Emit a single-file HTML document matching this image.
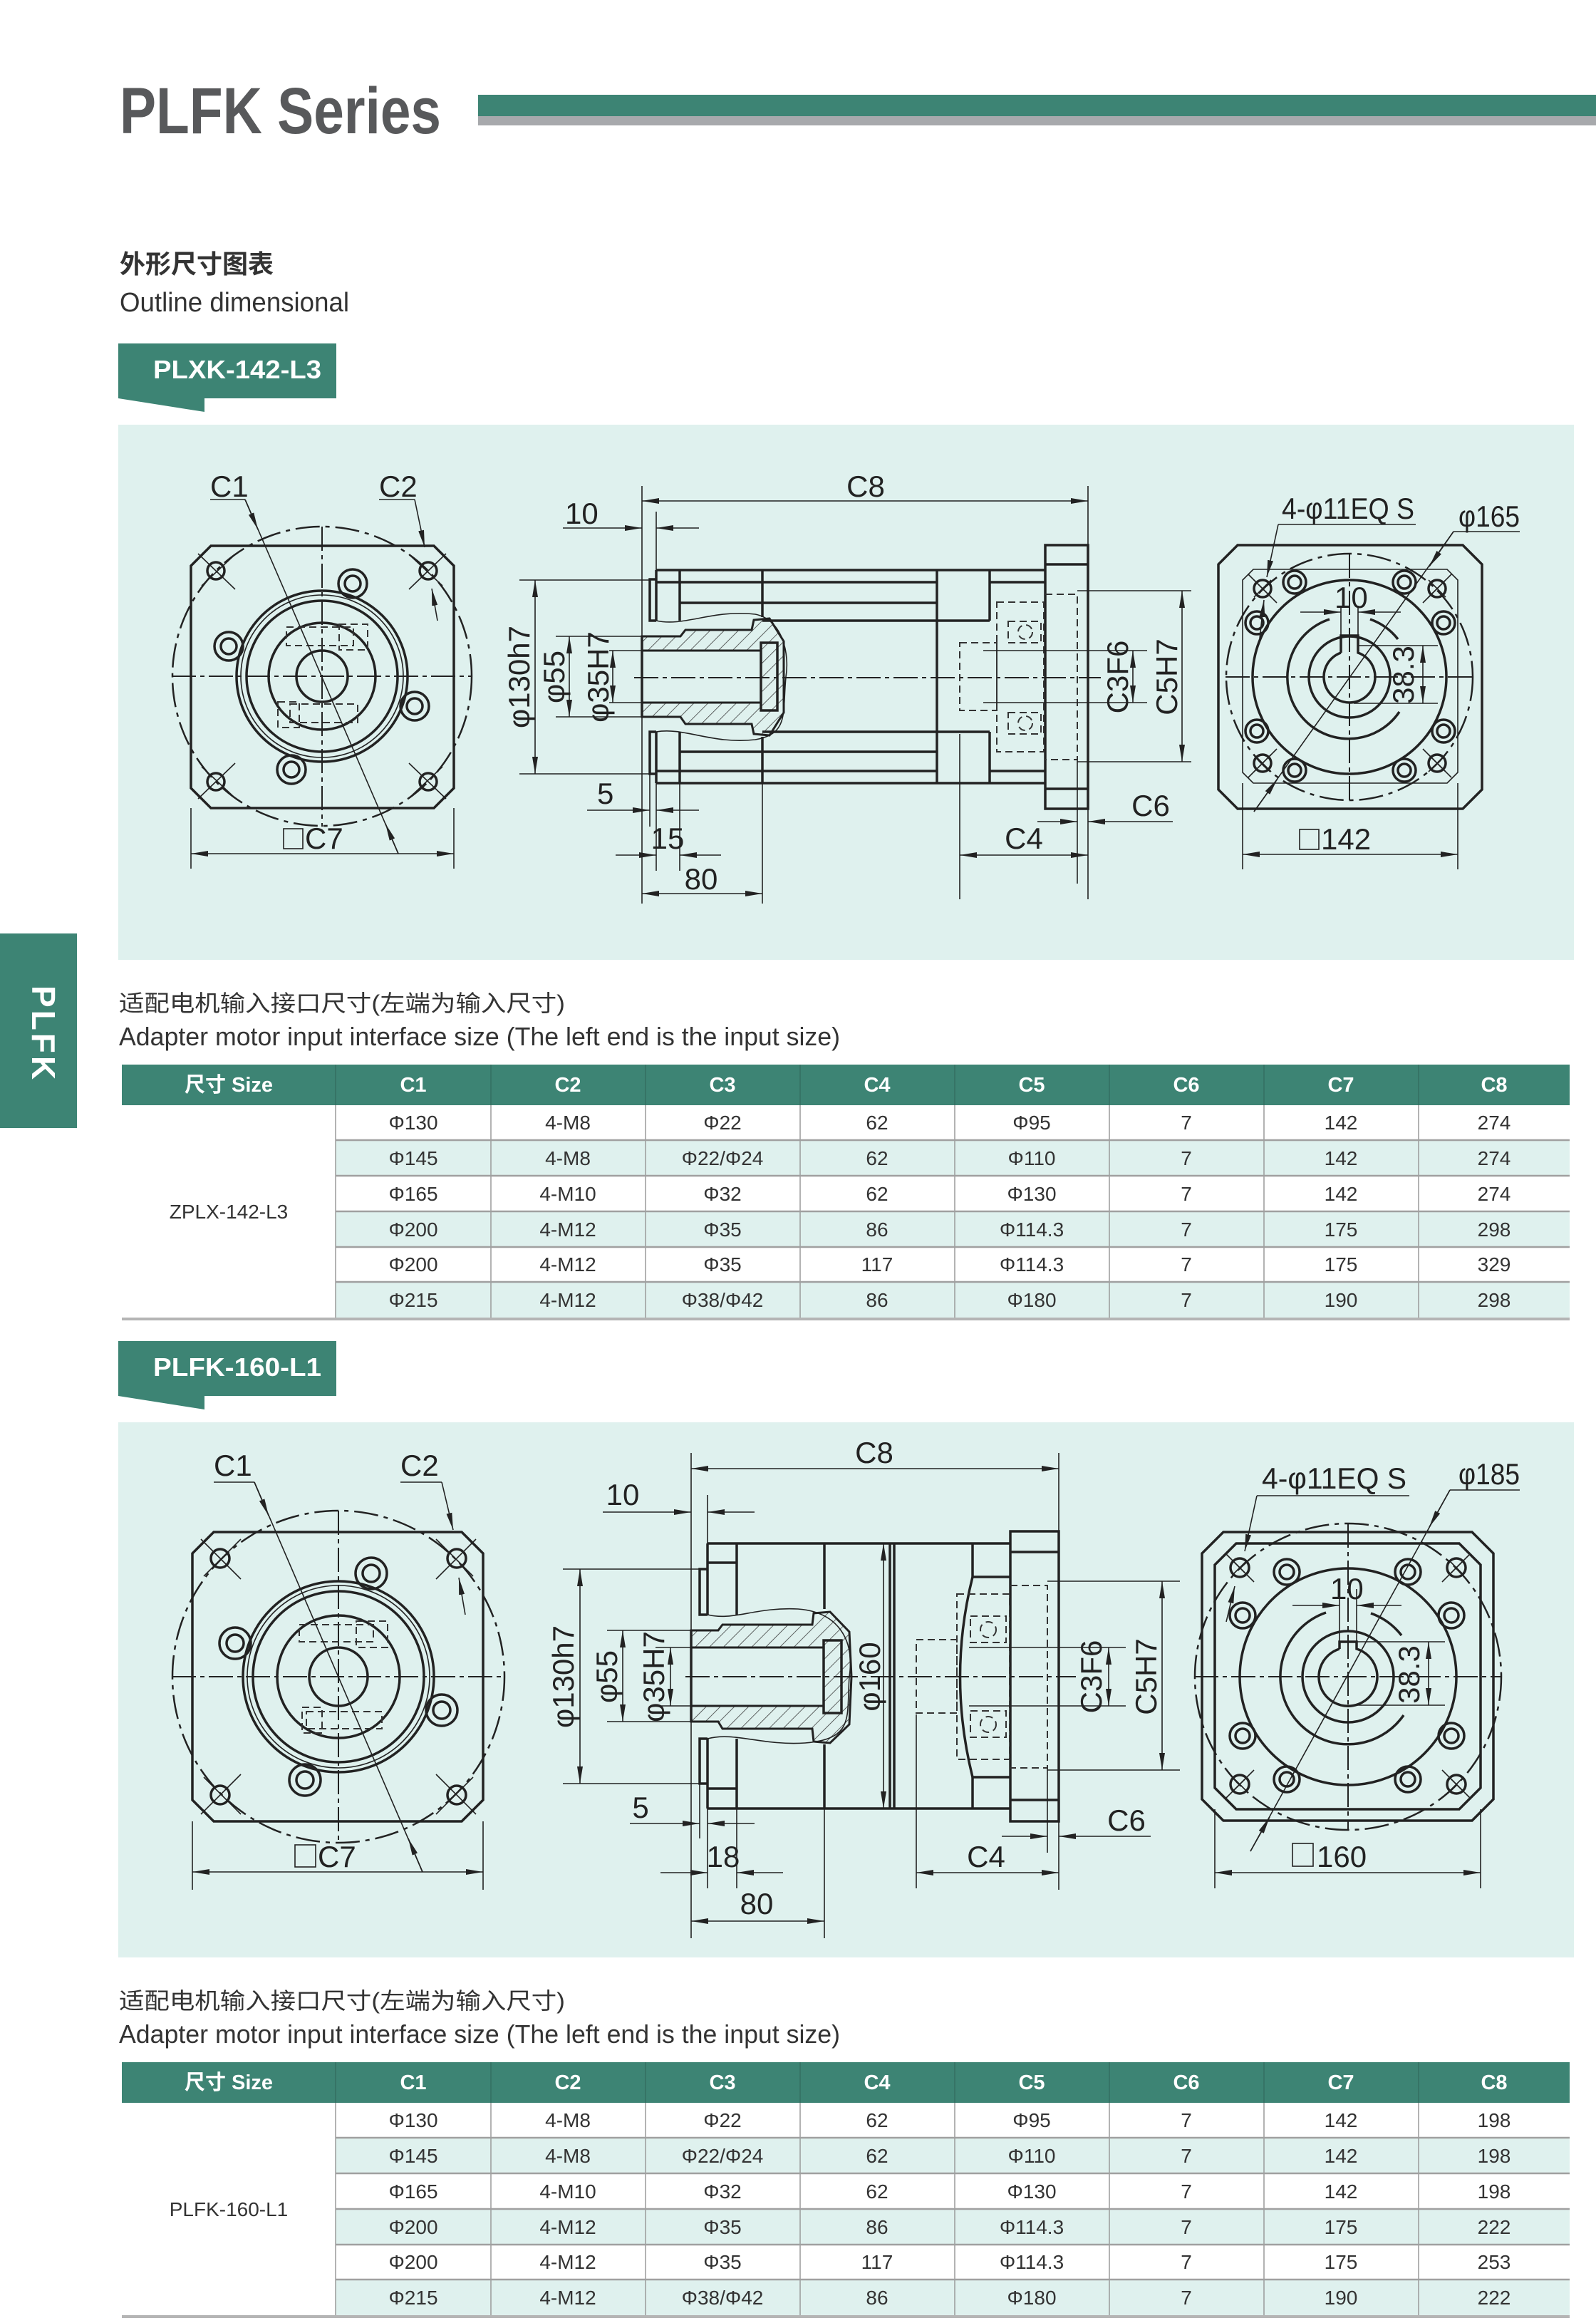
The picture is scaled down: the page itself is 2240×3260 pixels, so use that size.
<!DOCTYPE html>
<html><head><meta charset="utf-8"><style>
html,body{margin:0;padding:0;background:#fff}
svg{display:block}
.t{stroke:#222;fill:none;stroke-width:3.5}
.n{stroke:#222;fill:none;stroke-width:1.6}
.c{stroke:#222;fill:none;stroke-width:2;stroke-dasharray:34 6 6 6}
.dd{stroke:#333;fill:none;stroke-width:2;stroke-dasharray:10 6}
.pc{stroke:#222;fill:none;stroke-width:2.5;stroke-dasharray:34 8 6 8}
.d{font-family:"Liberation Sans",sans-serif;font-size:42px;fill:#222}
.tb{font-family:"Liberation Sans","Noto Sans CJK SC",sans-serif;font-size:28px;fill:#333;text-anchor:middle}
.th{font-family:"Liberation Sans","Noto Sans CJK SC",sans-serif;font-size:29px;font-weight:bold;fill:#fff;text-anchor:middle}
</style></head><body>
<svg width="2240" height="3260" viewBox="0 0 2240 3260" xmlns="http://www.w3.org/2000/svg">
<defs>
<marker id="ar" viewBox="0 0 24 8" refX="24" refY="4" markerWidth="24" markerHeight="8" markerUnits="userSpaceOnUse" orient="auto-start-reverse"><path d="M0,0 L24,4 L0,8z" fill="#222"/></marker>
<pattern id="h" width="14" height="14" patternUnits="userSpaceOnUse" patternTransform="rotate(45)"><line x1="0" y1="0" x2="0" y2="14" stroke="#333" stroke-width="1.5"/></pattern>
</defs>

<!-- Header -->
<text x="168" y="187" font-family="Liberation Sans,sans-serif" font-weight="bold" font-size="92" fill="#58595b" textLength="451" lengthAdjust="spacingAndGlyphs">PLFK Series</text>
<rect x="671" y="133" width="1569" height="30" fill="#3d8474"/>
<rect x="671" y="163" width="1569" height="13" fill="#a7a9ac"/>
<text x="168" y="383" font-family="Liberation Sans,Noto Sans CJK SC,sans-serif" font-size="36" font-weight="bold" fill="#333">外形尺寸图表</text>
<text x="168" y="437" font-family="Liberation Sans,sans-serif" font-size="38" fill="#333" textLength="322" lengthAdjust="spacingAndGlyphs">Outline dimensional</text>

<!-- side tab -->
<rect x="0" y="1310" width="108" height="273" fill="#3d8474"/>
<text transform="translate(45,1451) rotate(90)" text-anchor="middle" font-family="Liberation Sans,sans-serif" font-weight="bold" font-size="46" fill="#fff" letter-spacing="4">PLFK</text>

<!-- ===== SECTION 1 ===== -->
<rect x="166" y="482" width="306" height="77" fill="#3d8474"/>
<polygon points="166,559 287,559 287,578" fill="#3d8474"/>
<text x="215" y="531" font-family="Liberation Sans,sans-serif" font-weight="bold" font-size="36" fill="#fff" textLength="236" lengthAdjust="spacingAndGlyphs">PLXK-142-L3</text>
<rect x="166" y="596" width="2043" height="751" fill="#dff1ee"/>

<!-- left view 1 -->
<g>
<polygon class="t" points="296,766 609,766 637,794 637,1106 609,1134 296,1134 268,1106 268,794"/>
<circle class="pc" cx="452" cy="949" r="210"/>
<line class="c" x1="241" y1="949" x2="662" y2="949"/>
<line class="c" x1="452" y1="739" x2="452" y2="1160"/>
<circle class="t" cx="452" cy="949" r="120" stroke-width="4"/>
<circle class="n" cx="452" cy="949" r="114" stroke-width="2.5"/>
<circle class="t" cx="452" cy="949" r="106"/>
<circle class="t" cx="452" cy="949" r="75"/>
<circle class="t" cx="452" cy="949" r="36"/>
<rect class="dd" x="402" y="880" width="94" height="26"/>
<rect class="dd" x="476" y="876" width="40" height="36"/>
<rect class="dd" x="407" y="988" width="95" height="26"/>
<rect class="dd" x="390" y="985" width="30" height="36"/>
<g class="t" stroke-width="4">
<circle cx="495" cy="819" r="20"/><circle cx="321" cy="907" r="20"/><circle cx="582" cy="991" r="20"/><circle cx="409" cy="1080" r="20"/></g>
<g class="t" stroke-width="3">
<circle cx="495" cy="819" r="11"/><circle cx="321" cy="907" r="11"/><circle cx="582" cy="991" r="11"/><circle cx="409" cy="1080" r="11"/></g>
<g class="t" stroke-width="2.5">
<circle cx="303" cy="801" r="12"/><circle cx="601" cy="801" r="12"/><circle cx="303" cy="1097" r="12"/><circle cx="601" cy="1097" r="12"/></g>
<g class="n">
<line x1="278" y1="777" x2="330" y2="827"/><line x1="283" y1="822" x2="330" y2="778"/>
<line x1="626" y1="777" x2="574" y2="827"/><line x1="621" y1="822" x2="574" y2="778"/>
<line x1="278" y1="1121" x2="330" y2="1071"/><line x1="283" y1="1076" x2="330" y2="1120"/>
<line x1="626" y1="1121" x2="574" y2="1071"/><line x1="621" y1="1076" x2="574" y2="1120"/>
<line x1="295" y1="701" x2="344" y2="701"/><line x1="344" y1="701" x2="559" y2="1198"/>
<line x1="344" y1="701" x2="362" y2="743" marker-end="url(#ar)"/>
<line x1="559" y1="1198" x2="541" y2="1156" marker-end="url(#ar)"/>
<line x1="532" y1="701" x2="582" y2="701"/><line x1="582" y1="701" x2="596" y2="768" marker-end="url(#ar)"/>
<line x1="614" y1="871" x2="606" y2="826" marker-end="url(#ar)"/>
<line x1="268" y1="1134" x2="268" y2="1219"/><line x1="637" y1="1134" x2="637" y2="1219"/>
<line x1="268" y1="1198" x2="637" y2="1198" marker-start="url(#ar)" marker-end="url(#ar)"/>
<rect x="398" y="1163" width="27" height="28"/>
</g>
<text class="d" x="295" y="697">C1</text>
<text class="d" x="532" y="697">C2</text>
<text class="d" x="428" y="1191">C7</text>
</g>

<!-- middle view 1 -->
<g>
<line class="c" x1="890" y1="951" x2="1545" y2="951"/>
<g class="t">
<rect x="1467" y="765" width="60" height="370"/>
<line x1="1467" y1="792" x2="1527" y2="792"/><line x1="1467" y1="1107" x2="1527" y2="1107"/>
<line x1="921" y1="800" x2="1467" y2="800"/><line x1="921" y1="1099" x2="1467" y2="1099"/>
<line x1="921" y1="800" x2="921" y2="871"/><line x1="921" y1="1027" x2="921" y2="1099"/>
<polyline points="921,813 912,813 912,871 921,871"/><polyline points="921,1027 912,1027 912,1086 921,1086"/>
<line x1="954" y1="800" x2="954" y2="871"/><line x1="954" y1="1027" x2="954" y2="1099"/>
<line x1="1070" y1="800" x2="1070" y2="866"/><line x1="1070" y1="1034" x2="1070" y2="1099"/>
<line x1="1315" y1="800" x2="1315" y2="1099"/>
<line x1="1389" y1="800" x2="1389" y2="871"/><line x1="1389" y1="1027" x2="1389" y2="1099"/>
<line x1="921" y1="817" x2="1315" y2="817"/><line x1="1389" y1="817" x2="1467" y2="817"/>
<line x1="954" y1="846" x2="1315" y2="846"/><line x1="1070" y1="871" x2="1389" y2="871"/>
<line x1="1070" y1="1027" x2="1389" y2="1027"/><line x1="954" y1="1055" x2="1315" y2="1055"/>
<line x1="921" y1="1082" x2="1315" y2="1082"/><line x1="1389" y1="1082" x2="1467" y2="1082"/>
</g>
<path d="M901,893 L955,893 L962,884 L1055,884 L1058,870 L1080,868 L1100,900 L1100,1000 L1080,1032 L1058,1030 L1055,1016 L962,1016 L955,1006 L901,1006 L901,986 L1068,986 L1068,913 L901,913 Z" fill="url(#h)" stroke="#222" stroke-width="3"/>
<rect class="t" x="1068" y="902" width="23" height="95" fill="#dff1ee"/>
<path class="n" d="M921,871 C960,880 1000,855 1060,862 C1100,870 1108,920 1103,950 C1098,1000 1108,1030 1060,1038 C1000,1045 960,1020 921,1027" stroke-width="2"/>
<line class="t" x1="901" y1="893" x2="901" y2="1006"/>
<g class="dd">
<polyline points="1467,834 1512,834 1512,1066 1467,1066"/>
<rect x="1399" y="845" width="66" height="210"/>
<rect x="1347" y="902" width="52" height="95"/>
<rect x="1415" y="872" width="46" height="30"/><rect x="1415" y="1000" width="46" height="30"/>
<circle cx="1439" cy="887" r="10"/><circle cx="1439" cy="1015" r="10"/>
</g>
<g class="n">
<line x1="901" y1="682" x2="901" y2="1268"/><line x1="1527" y1="682" x2="1527" y2="1262"/>
<line x1="901" y1="703" x2="1527" y2="703" marker-start="url(#ar)" marker-end="url(#ar)"/>
<line x1="921" y1="718" x2="921" y2="800"/>
<line x1="790" y1="741" x2="901" y2="741" marker-end="url(#ar)"/><line x1="981" y1="741" x2="921" y2="741" marker-end="url(#ar)"/>
<line x1="729" y1="814" x2="912" y2="814"/><line x1="729" y1="1086" x2="912" y2="1086"/>
<line x1="751" y1="814" x2="751" y2="1086" marker-start="url(#ar)" marker-end="url(#ar)"/>
<line x1="780" y1="893" x2="901" y2="893"/><line x1="780" y1="1006" x2="901" y2="1006"/>
<line x1="799" y1="893" x2="799" y2="1006" marker-start="url(#ar)" marker-end="url(#ar)"/>
<line x1="855" y1="913" x2="901" y2="913"/><line x1="855" y1="986" x2="901" y2="986"/>
<line x1="860" y1="913" x2="860" y2="986" marker-start="url(#ar)" marker-end="url(#ar)"/>
<line x1="912" y1="1086" x2="912" y2="1160"/><line x1="921" y1="1099" x2="921" y2="1222"/>
<line x1="824" y1="1137" x2="912" y2="1137" marker-end="url(#ar)"/><line x1="981" y1="1137" x2="921" y2="1137" marker-end="url(#ar)"/>
<line x1="954" y1="1099" x2="954" y2="1222"/>
<line x1="864" y1="1200" x2="921" y2="1200" marker-end="url(#ar)"/><line x1="1012" y1="1200" x2="954" y2="1200" marker-end="url(#ar)"/>
<line x1="1070" y1="1099" x2="1070" y2="1268"/>
<line x1="901" y1="1254" x2="1070" y2="1254" marker-start="url(#ar)" marker-end="url(#ar)"/>
<line x1="1347" y1="1030" x2="1347" y2="1262"/>
<line x1="1347" y1="1200" x2="1527" y2="1200" marker-start="url(#ar)" marker-end="url(#ar)"/>
<line x1="1512" y1="1066" x2="1512" y2="1240"/>
<line x1="1456" y1="1153" x2="1512" y2="1153" marker-end="url(#ar)"/><line x1="1646" y1="1153" x2="1527" y2="1153" marker-end="url(#ar)"/>
<line x1="1380" y1="913" x2="1610" y2="913"/><line x1="1380" y1="986" x2="1610" y2="986"/>
<line x1="1590" y1="913" x2="1590" y2="986" marker-start="url(#ar)" marker-end="url(#ar)"/>
<line x1="1512" y1="829" x2="1672" y2="829"/><line x1="1512" y1="1069" x2="1672" y2="1069"/>
<line x1="1659" y1="829" x2="1659" y2="1069" marker-start="url(#ar)" marker-end="url(#ar)"/>
</g>
<text class="d" x="1215" y="697" text-anchor="middle">C8</text>
<text class="d" x="793" y="735">10</text>
<text class="d" transform="translate(743,950) rotate(-90)" text-anchor="middle">φ130h7</text>
<text class="d" transform="translate(792,950) rotate(-90)" text-anchor="middle">φ55</text>
<text class="d" transform="translate(854,950) rotate(-90)" text-anchor="middle">φ35H7</text>
<text class="d" x="838" y="1128">5</text>
<text class="d" x="937" y="1191" text-anchor="middle">15</text>
<text class="d" x="984" y="1248" text-anchor="middle">80</text>
<text class="d" x="1437" y="1191" text-anchor="middle">C4</text>
<text class="d" x="1615" y="1145" text-anchor="middle">C6</text>
<text class="d" transform="translate(1583,950) rotate(-90)" text-anchor="middle">C3F6</text>
<text class="d" transform="translate(1652,950) rotate(-90)" text-anchor="middle">C5H7</text>
</g>

<!-- right view 1 -->
<g>
<polygon class="t" points="1737,765 2053,765 2080,792 2080,1108 2053,1135 1737,1135 1710,1108 1710,792"/>
<polygon class="n" stroke-width="2.5" points="1759,799 2031,799 2046,814 2046,1084 2031,1099 1759,1099 1744,1084 1744,814"/>
<circle class="pc" cx="1894" cy="950" r="173"/>
<line class="c" x1="1720" y1="950" x2="2068" y2="950"/>
<line class="c" x1="1894" y1="777" x2="1894" y2="1124"/>
<circle class="t" cx="1894" cy="950" r="136" stroke-width="4.5"/>
<path class="t" stroke-width="5" d="M1866,869 A86,86 0 1 0 1964,999"/>
<path class="t" stroke-width="5" d="M1923,869 A86,86 0 0 1 1962,897"/>
<circle class="t" cx="1894" cy="950" r="57"/>
<path class="t" d="M1882,916 L1882,892 L1906,892 L1906,916 A36,36 0 1 1 1882,916"/>
<g class="t" stroke-width="3.5">
<circle cx="1817" cy="817" r="16"/><circle cx="1971" cy="817" r="16"/><circle cx="1764" cy="874" r="16"/><circle cx="2026" cy="874" r="16"/>
<circle cx="1764" cy="1026" r="16"/><circle cx="2026" cy="1026" r="16"/><circle cx="1817" cy="1081" r="16"/><circle cx="1971" cy="1081" r="16"/></g>
<g class="t" stroke-width="2.5">
<circle cx="1817" cy="817" r="9"/><circle cx="1971" cy="817" r="9"/><circle cx="1764" cy="874" r="9"/><circle cx="2026" cy="874" r="9"/>
<circle cx="1764" cy="1026" r="9"/><circle cx="2026" cy="1026" r="9"/><circle cx="1817" cy="1081" r="9"/><circle cx="1971" cy="1081" r="9"/>
<circle cx="1772" cy="826" r="12"/><circle cx="2017" cy="826" r="12"/><circle cx="1772" cy="1071" r="12"/><circle cx="2017" cy="1071" r="12"/></g>
<g class="n" stroke-width="2">
<line x1="1760" y1="814" x2="1784" y2="838"/><line x1="1784" y1="814" x2="1760" y2="838"/>
<line x1="2005" y1="814" x2="2029" y2="838"/><line x1="2029" y1="814" x2="2005" y2="838"/>
<line x1="1760" y1="1059" x2="1784" y2="1083"/><line x1="1784" y1="1059" x2="1760" y2="1083"/>
<line x1="2005" y1="1059" x2="2029" y2="1083"/><line x1="2029" y1="1059" x2="2005" y2="1083"/>
</g>
<g class="n">
<line x1="1752" y1="806" x2="1792" y2="846"/><line x1="2037" y1="806" x2="1997" y2="846"/>
<line x1="1752" y1="1091" x2="1792" y2="1051"/><line x1="2037" y1="1091" x2="1997" y2="1051"/>
<line x1="1794" y1="736" x2="1987" y2="736"/><line x1="1794" y1="736" x2="1778" y2="810" marker-end="url(#ar)"/>
<line x1="1768" y1="896" x2="1774" y2="842" marker-end="url(#ar)"/>
<line x1="2040" y1="746" x2="2133" y2="746"/>
<line x1="2040" y1="746" x2="1760" y2="1139"/>
<line x1="2040" y1="746" x2="2006" y2="795" marker-end="url(#ar)"/>
<line x1="1760" y1="1139" x2="1793" y2="1093" marker-end="url(#ar)"/>
<line x1="1882" y1="850" x2="1882" y2="906"/><line x1="1906" y1="850" x2="1906" y2="906"/>
<line x1="1825" y1="859" x2="1882" y2="859" marker-end="url(#ar)"/><line x1="1966" y1="859" x2="1906" y2="859" marker-end="url(#ar)"/>
<line x1="1906" y1="906" x2="2018" y2="906"/><line x1="1900" y1="987" x2="2018" y2="987"/>
<line x1="1997" y1="906" x2="1997" y2="987" marker-start="url(#ar)" marker-end="url(#ar)"/>
<line x1="1744" y1="1099" x2="1744" y2="1220"/><line x1="2046" y1="1099" x2="2046" y2="1220"/>
<line x1="1744" y1="1199" x2="2046" y2="1199" marker-start="url(#ar)" marker-end="url(#ar)"/>
<rect x="1824" y="1164" width="27" height="28"/>
</g>
<text class="d" x="1799" y="728" textLength="186" lengthAdjust="spacingAndGlyphs">4-φ11EQ S</text>
<text class="d" x="2047" y="739" textLength="86" lengthAdjust="spacingAndGlyphs">φ165</text>
<text class="d" x="1873" y="853">10</text>
<text class="d" transform="translate(1984,947) rotate(-90)" text-anchor="middle">38.3</text>
<text class="d" x="1854" y="1192">142</text>
</g>

<!-- text & table 1 -->
<text x="167" y="1419" font-family="Liberation Sans,Noto Sans CJK SC,sans-serif" font-size="32" fill="#333" textLength="626" lengthAdjust="spacingAndGlyphs">适配电机输入接口尺寸(左端为输入尺寸)</text>
<text x="167" y="1467" font-family="Liberation Sans,sans-serif" font-size="36" fill="#333" textLength="1012" lengthAdjust="spacingAndGlyphs">Adapter motor input interface size (The left end is the input size)</text>

<g>
<rect x="171" y="1494" width="2032" height="57" fill="#3d8474"/>
<rect x="471" y="1600" width="1732" height="50" fill="#dff1ee"/>
<rect x="471" y="1700" width="1732" height="50" fill="#dff1ee"/>
<rect x="471" y="1799" width="1732" height="51" fill="#dff1ee"/>
<g stroke="#356f62" stroke-width="1.5"><line x1="471" y1="1494" x2="471" y2="1551"/><line x1="689" y1="1494" x2="689" y2="1551"/><line x1="906" y1="1494" x2="906" y2="1551"/><line x1="1123" y1="1494" x2="1123" y2="1551"/><line x1="1340" y1="1494" x2="1340" y2="1551"/><line x1="1557" y1="1494" x2="1557" y2="1551"/><line x1="1774" y1="1494" x2="1774" y2="1551"/><line x1="1991" y1="1494" x2="1991" y2="1551"/></g>
<g stroke="#9a9a9a" stroke-width="1.5"><line x1="471" y1="1551" x2="471" y2="1850"/><line x1="689" y1="1551" x2="689" y2="1850"/><line x1="906" y1="1551" x2="906" y2="1850"/><line x1="1123" y1="1551" x2="1123" y2="1850"/><line x1="1340" y1="1551" x2="1340" y2="1850"/><line x1="1557" y1="1551" x2="1557" y2="1850"/><line x1="1774" y1="1551" x2="1774" y2="1850"/><line x1="1991" y1="1551" x2="1991" y2="1850"/></g>
<g stroke="#a0a0a0" stroke-width="2.5"><line x1="471" y1="1600" x2="2203" y2="1600"/><line x1="471" y1="1650" x2="2203" y2="1650"/><line x1="471" y1="1700" x2="2203" y2="1700"/><line x1="471" y1="1750" x2="2203" y2="1750"/><line x1="471" y1="1799" x2="2203" y2="1799"/><line x1="171" y1="1851" x2="2203" y2="1851" stroke-width="4" stroke="#b5b5b5"/></g>
<text class="th" x="321" y="1532">尺寸 Size</text><text class="th" x="580" y="1532">C1</text><text class="th" x="797" y="1532">C2</text><text class="th" x="1014" y="1532">C3</text><text class="th" x="1231" y="1532">C4</text><text class="th" x="1448" y="1532">C5</text><text class="th" x="1665" y="1532">C6</text><text class="th" x="1882" y="1532">C7</text><text class="th" x="2097" y="1532">C8</text>
<text class="tb" x="321" y="1710">ZPLX-142-L3</text>
<text class="tb" x="580" y="1585">Φ130</text><text class="tb" x="797" y="1585">4-M8</text><text class="tb" x="1014" y="1585">Φ22</text><text class="tb" x="1231" y="1585">62</text><text class="tb" x="1448" y="1585">Φ95</text><text class="tb" x="1665" y="1585">7</text><text class="tb" x="1882" y="1585">142</text><text class="tb" x="2097" y="1585">274</text>
<text class="tb" x="580" y="1635">Φ145</text><text class="tb" x="797" y="1635">4-M8</text><text class="tb" x="1014" y="1635">Φ22/Φ24</text><text class="tb" x="1231" y="1635">62</text><text class="tb" x="1448" y="1635">Φ110</text><text class="tb" x="1665" y="1635">7</text><text class="tb" x="1882" y="1635">142</text><text class="tb" x="2097" y="1635">274</text>
<text class="tb" x="580" y="1685">Φ165</text><text class="tb" x="797" y="1685">4-M10</text><text class="tb" x="1014" y="1685">Φ32</text><text class="tb" x="1231" y="1685">62</text><text class="tb" x="1448" y="1685">Φ130</text><text class="tb" x="1665" y="1685">7</text><text class="tb" x="1882" y="1685">142</text><text class="tb" x="2097" y="1685">274</text>
<text class="tb" x="580" y="1735">Φ200</text><text class="tb" x="797" y="1735">4-M12</text><text class="tb" x="1014" y="1735">Φ35</text><text class="tb" x="1231" y="1735">86</text><text class="tb" x="1448" y="1735">Φ114.3</text><text class="tb" x="1665" y="1735">7</text><text class="tb" x="1882" y="1735">175</text><text class="tb" x="2097" y="1735">298</text>
<text class="tb" x="580" y="1784">Φ200</text><text class="tb" x="797" y="1784">4-M12</text><text class="tb" x="1014" y="1784">Φ35</text><text class="tb" x="1231" y="1784">117</text><text class="tb" x="1448" y="1784">Φ114.3</text><text class="tb" x="1665" y="1784">7</text><text class="tb" x="1882" y="1784">175</text><text class="tb" x="2097" y="1784">329</text>
<text class="tb" x="580" y="1834">Φ215</text><text class="tb" x="797" y="1834">4-M12</text><text class="tb" x="1014" y="1834">Φ38/Φ42</text><text class="tb" x="1231" y="1834">86</text><text class="tb" x="1448" y="1834">Φ180</text><text class="tb" x="1665" y="1834">7</text><text class="tb" x="1882" y="1834">190</text><text class="tb" x="2097" y="1834">298</text>
</g>

<!-- ===== SECTION 2 ===== -->
<rect x="166" y="1882" width="306" height="77" fill="#3d8474"/>
<polygon points="166,1959 287,1959 287,1978" fill="#3d8474"/>
<text x="215" y="1931" font-family="Liberation Sans,sans-serif" font-weight="bold" font-size="36" fill="#fff" textLength="236" lengthAdjust="spacingAndGlyphs">PLFK-160-L1</text>
<rect x="166" y="1996" width="2043" height="751" fill="#dff1ee"/>

<!-- left view 2 -->
<g>
<polygon class="t" points="300,2150 648,2150 678,2180 678,2526 648,2556 300,2556 270,2526 270,2180"/>
<circle class="pc" cx="475" cy="2353" r="233"/>
<line class="c" x1="241" y1="2353" x2="709" y2="2353"/>
<line class="c" x1="475" y1="2120" x2="475" y2="2586"/>
<circle class="t" cx="475" cy="2353" r="134" stroke-width="4"/>
<circle class="n" cx="475" cy="2353" r="128" stroke-width="2.5"/>
<circle class="t" cx="475" cy="2353" r="120"/>
<circle class="t" cx="475" cy="2353" r="86"/>
<circle class="t" cx="475" cy="2353" r="41"/>
<rect class="dd" x="420" y="2280" width="104" height="24"/>
<rect class="dd" x="500" y="2275" width="44" height="37"/>
<rect class="dd" x="430" y="2402" width="106" height="24"/>
<rect class="dd" x="424" y="2396" width="28" height="36"/>
<g class="t" stroke-width="4">
<circle cx="521" cy="2208" r="22"/><circle cx="330" cy="2306" r="22"/><circle cx="620" cy="2400" r="22"/><circle cx="428" cy="2498" r="22"/></g>
<g class="t" stroke-width="3">
<circle cx="521" cy="2208" r="12"/><circle cx="330" cy="2306" r="12"/><circle cx="620" cy="2400" r="12"/><circle cx="428" cy="2498" r="12"/></g>
<g class="t" stroke-width="2.5">
<circle cx="309" cy="2187" r="13"/><circle cx="641" cy="2187" r="13"/><circle cx="309" cy="2519" r="13"/><circle cx="641" cy="2519" r="13"/></g>
<g class="n">
<line x1="282" y1="2160" x2="338" y2="2216"/><line x1="286" y1="2212" x2="338" y2="2160"/>
<line x1="668" y1="2160" x2="612" y2="2216"/><line x1="664" y1="2212" x2="612" y2="2160"/>
<line x1="282" y1="2546" x2="338" y2="2490"/><line x1="286" y1="2494" x2="338" y2="2546"/>
<line x1="668" y1="2546" x2="612" y2="2490"/><line x1="664" y1="2494" x2="612" y2="2546"/>
<line x1="300" y1="2080" x2="357" y2="2080"/><line x1="357" y1="2080" x2="593" y2="2627"/>
<line x1="357" y1="2080" x2="377" y2="2127" marker-end="url(#ar)"/>
<line x1="593" y1="2627" x2="573" y2="2580" marker-end="url(#ar)"/>
<line x1="562" y1="2080" x2="620" y2="2080"/><line x1="620" y1="2080" x2="636" y2="2147" marker-end="url(#ar)"/>
<line x1="653" y1="2266" x2="644" y2="2214" marker-end="url(#ar)"/>
<line x1="270" y1="2556" x2="270" y2="2652"/><line x1="678" y1="2556" x2="678" y2="2652"/>
<line x1="270" y1="2627" x2="678" y2="2627" marker-start="url(#ar)" marker-end="url(#ar)"/>
<rect x="414" y="2589" width="29" height="31"/>
</g>
<text class="d" x="300" y="2071">C1</text>
<text class="d" x="562" y="2071">C2</text>
<text class="d" x="446" y="2620">C7</text>
</g>

<!-- middle view 2 -->
<g>
<line class="c" x1="962" y1="2353" x2="1510" y2="2353"/>
<g class="t">
<rect x="1418" y="2149" width="68" height="407"/>
<line x1="1418" y1="2178" x2="1486" y2="2178"/><line x1="1418" y1="2526" x2="1486" y2="2526"/>
<line x1="993" y1="2166" x2="1418" y2="2166"/><line x1="993" y1="2538" x2="1418" y2="2538"/>
<line x1="993" y1="2166" x2="993" y2="2266"/><line x1="993" y1="2440" x2="993" y2="2538"/>
<polyline points="993,2202 982,2202 982,2266 993,2266"/><polyline points="993,2440 982,2440 982,2503 993,2503"/>
<line x1="1034" y1="2166" x2="1034" y2="2266"/><line x1="1034" y1="2440" x2="1034" y2="2538"/>
<line x1="993" y1="2193" x2="1034" y2="2193"/><line x1="993" y1="2510" x2="1034" y2="2510"/>
<line x1="1157" y1="2166" x2="1157" y2="2258"/><line x1="1157" y1="2448" x2="1157" y2="2538"/>
<line x1="1249" y1="2166" x2="1249" y2="2538"/><line x1="1255" y1="2166" x2="1255" y2="2538"/>
<line x1="1365" y1="2166" x2="1365" y2="2213"/><line x1="1365" y1="2494" x2="1365" y2="2538"/>
<line x1="1365" y1="2213" x2="1418" y2="2213"/><line x1="1365" y1="2494" x2="1418" y2="2494"/>
<path d="M1365,2213 Q1330,2353 1365,2494"/>
</g>
<path d="M970,2288 L1008,2288 L1014,2280 L1140,2280 L1142,2264 L1165,2262 L1192,2290 L1195,2353 L1192,2420 L1165,2446 L1142,2444 L1140,2426 L1014,2426 L1008,2416 L970,2416 L970,2394 L1156,2394 L1156,2312 L970,2312 Z" fill="url(#h)" stroke="#222" stroke-width="3"/>
<rect class="t" x="1156" y="2302" width="25" height="102" fill="#dff1ee"/>
<path class="n" stroke-width="2" d="M993,2266 C1030,2275 1060,2255 1120,2258 C1175,2262 1200,2300 1192,2353 C1188,2410 1200,2440 1130,2446 C1070,2450 1030,2430 993,2440"/>
<line class="t" x1="970" y1="2288" x2="970" y2="2416"/>
<g class="dd">
<polyline points="1418,2225 1470,2225 1470,2481 1418,2481"/>
<rect x="1343" y="2237" width="74" height="232"/>
<rect x="1286" y="2301" width="57" height="103"/>
<rect x="1362" y="2268" width="50" height="37"/><rect x="1362" y="2401" width="50" height="37"/>
<circle cx="1387" cy="2287" r="11"/><circle cx="1387" cy="2420" r="11"/>
</g>
<g class="n">
<line x1="970" y1="2039" x2="970" y2="2720"/><line x1="1486" y1="2039" x2="1486" y2="2652"/>
<line x1="970" y1="2061" x2="1486" y2="2061" marker-start="url(#ar)" marker-end="url(#ar)"/>
<line x1="993" y1="2098" x2="993" y2="2166"/>
<line x1="846" y1="2122" x2="970" y2="2122" marker-end="url(#ar)"/><line x1="1059" y1="2122" x2="993" y2="2122" marker-end="url(#ar)"/>
<line x1="790" y1="2202" x2="982" y2="2202"/><line x1="790" y1="2503" x2="982" y2="2503"/>
<line x1="814" y1="2202" x2="814" y2="2503" marker-start="url(#ar)" marker-end="url(#ar)"/>
<line x1="852" y1="2288" x2="970" y2="2288"/><line x1="852" y1="2416" x2="970" y2="2416"/>
<line x1="874" y1="2288" x2="874" y2="2416" marker-start="url(#ar)" marker-end="url(#ar)"/>
<line x1="920" y1="2312" x2="970" y2="2312"/><line x1="920" y1="2394" x2="970" y2="2394"/>
<line x1="941" y1="2312" x2="941" y2="2394" marker-start="url(#ar)" marker-end="url(#ar)"/>
<line x1="1240" y1="2166" x2="1240" y2="2538" marker-start="url(#ar)" marker-end="url(#ar)"/>
<line x1="982" y1="2503" x2="982" y2="2580"/><line x1="993" y1="2538" x2="993" y2="2650"/>
<line x1="884" y1="2559" x2="982" y2="2559" marker-end="url(#ar)"/><line x1="1059" y1="2559" x2="993" y2="2559" marker-end="url(#ar)"/>
<line x1="1034" y1="2538" x2="1034" y2="2650"/>
<line x1="927" y1="2628" x2="993" y2="2628" marker-end="url(#ar)"/><line x1="1099" y1="2628" x2="1034" y2="2628" marker-end="url(#ar)"/>
<line x1="1157" y1="2538" x2="1157" y2="2720"/>
<line x1="970" y1="2696" x2="1157" y2="2696" marker-start="url(#ar)" marker-end="url(#ar)"/>
<line x1="1286" y1="2406" x2="1286" y2="2650"/>
<line x1="1286" y1="2628" x2="1486" y2="2628" marker-start="url(#ar)" marker-end="url(#ar)"/>
<line x1="1470" y1="2481" x2="1470" y2="2600"/>
<line x1="1406" y1="2577" x2="1470" y2="2577" marker-end="url(#ar)"/><line x1="1615" y1="2577" x2="1486" y2="2577" marker-end="url(#ar)"/>
<line x1="1360" y1="2312" x2="1580" y2="2312"/><line x1="1360" y1="2394" x2="1580" y2="2394"/>
<line x1="1556" y1="2312" x2="1556" y2="2394" marker-start="url(#ar)" marker-end="url(#ar)"/>
<line x1="1470" y1="2219" x2="1656" y2="2219"/><line x1="1470" y1="2484" x2="1656" y2="2484"/>
<line x1="1631" y1="2219" x2="1631" y2="2484" marker-start="url(#ar)" marker-end="url(#ar)"/>
</g>
<text class="d" x="1227" y="2053" text-anchor="middle">C8</text>
<text class="d" x="874" y="2112" text-anchor="middle">10</text>
<text class="d" transform="translate(805,2353) rotate(-90)" text-anchor="middle">φ130h7</text>
<text class="d" transform="translate(866,2353) rotate(-90)" text-anchor="middle">φ55</text>
<text class="d" transform="translate(932,2353) rotate(-90)" text-anchor="middle">φ35H7</text>
<text class="d" transform="translate(1235,2353) rotate(-90)" text-anchor="middle">φ160</text>
<text class="d" x="899" y="2551" text-anchor="middle">5</text>
<text class="d" x="1015" y="2620" text-anchor="middle">18</text>
<text class="d" x="1062" y="2686" text-anchor="middle">80</text>
<text class="d" x="1384" y="2620" text-anchor="middle">C4</text>
<text class="d" x="1581" y="2569" text-anchor="middle">C6</text>
<text class="d" transform="translate(1546,2353) rotate(-90)" text-anchor="middle">C3F6</text>
<text class="d" transform="translate(1623,2353) rotate(-90)" text-anchor="middle">C5H7</text>
</g>

<!-- right view 2 -->
<g>
<polygon class="t" points="1717,2150 2066,2150 2096,2180 2096,2525 2066,2555 1717,2555 1687,2525 1687,2180"/>
<polygon class="t" stroke-width="3" points="1735,2166 2048,2166 2078,2196 2078,2509 2048,2539 1735,2539 1705,2509 1705,2196"/>
<circle class="pc" cx="1892" cy="2353" r="215"/>
<line class="c" x1="1676" y1="2353" x2="2108" y2="2353"/>
<line class="c" x1="1892" y1="2138" x2="1892" y2="2568"/>
<circle class="t" cx="1892" cy="2353" r="152" stroke-width="4.5"/>
<path class="t" stroke-width="5" d="M1861,2263 A95,95 0 1 0 1970,2407"/>
<path class="t" stroke-width="5" d="M1924,2264 A95,95 0 0 1 1967,2295"/>
<circle class="t" cx="1892" cy="2353" r="64"/>
<path class="t" d="M1880,2314 L1880,2304 L1904,2304 L1904,2314 A41,41 0 1 1 1880,2314"/>
<g class="t" stroke-width="3.5">
<circle cx="1806" cy="2206" r="18"/><circle cx="1976" cy="2206" r="18"/><circle cx="1744" cy="2267" r="18"/><circle cx="2037" cy="2267" r="18"/>
<circle cx="1744" cy="2436" r="18"/><circle cx="2037" cy="2436" r="18"/><circle cx="1806" cy="2497" r="18"/><circle cx="1976" cy="2497" r="18"/></g>
<g class="t" stroke-width="2.5">
<circle cx="1806" cy="2206" r="10"/><circle cx="1976" cy="2206" r="10"/><circle cx="1744" cy="2267" r="10"/><circle cx="2037" cy="2267" r="10"/>
<circle cx="1744" cy="2436" r="10"/><circle cx="2037" cy="2436" r="10"/><circle cx="1806" cy="2497" r="10"/><circle cx="1976" cy="2497" r="10"/>
<circle cx="1740" cy="2200" r="13"/><circle cx="2044" cy="2200" r="13"/><circle cx="1740" cy="2504" r="13"/><circle cx="2044" cy="2504" r="13"/></g>
<g class="n" stroke-width="2">
<line x1="1731" y1="2191" x2="1749" y2="2209"/><line x1="1749" y1="2191" x2="1731" y2="2209"/>
<line x1="2035" y1="2191" x2="2053" y2="2209"/><line x1="2053" y1="2191" x2="2035" y2="2209"/>
<line x1="1731" y1="2495" x2="1749" y2="2513"/><line x1="1749" y1="2495" x2="1731" y2="2513"/>
<line x1="2035" y1="2495" x2="2053" y2="2513"/><line x1="2053" y1="2495" x2="2035" y2="2513"/>
</g>
<g class="n">
<line x1="1720" y1="2180" x2="1760" y2="2220"/><line x1="2064" y1="2180" x2="2024" y2="2220"/>
<line x1="1720" y1="2524" x2="1760" y2="2484"/><line x1="2064" y1="2524" x2="2024" y2="2484"/>
<line x1="1764" y1="2099" x2="1978" y2="2099"/><line x1="1764" y1="2099" x2="1747" y2="2177" marker-end="url(#ar)"/>
<line x1="1721" y1="2276" x2="1733" y2="2226" marker-end="url(#ar)"/>
<line x1="2035" y1="2091" x2="2133" y2="2091"/>
<line x1="2035" y1="2091" x2="1755" y2="2598"/>
<line x1="2035" y1="2091" x2="2006" y2="2143" marker-end="url(#ar)"/>
<line x1="1755" y1="2598" x2="1782" y2="2550" marker-end="url(#ar)"/>
<line x1="1880" y1="2244" x2="1880" y2="2304"/><line x1="1904" y1="2230" x2="1904" y2="2304"/>
<line x1="1814" y1="2253" x2="1880" y2="2253" marker-end="url(#ar)"/><line x1="1967" y1="2253" x2="1904" y2="2253" marker-end="url(#ar)"/>
<line x1="1904" y1="2304" x2="2028" y2="2304"/><line x1="1900" y1="2393" x2="2028" y2="2393"/>
<line x1="2005" y1="2304" x2="2005" y2="2393" marker-start="url(#ar)" marker-end="url(#ar)"/>
<line x1="1705" y1="2539" x2="1705" y2="2650"/><line x1="2078" y1="2539" x2="2078" y2="2650"/>
<line x1="1705" y1="2628" x2="2078" y2="2628" marker-start="url(#ar)" marker-end="url(#ar)"/>
<rect x="1814" y="2587" width="29" height="32"/>
</g>
<text class="d" x="1771" y="2089" textLength="203" lengthAdjust="spacingAndGlyphs">4-φ11EQ S</text>
<text class="d" x="2047" y="2083" textLength="86" lengthAdjust="spacingAndGlyphs">φ185</text>
<text class="d" x="1867" y="2244">10</text>
<text class="d" transform="translate(1992,2350) rotate(-90)" text-anchor="middle">38.3</text>
<text class="d" x="1848" y="2620">160</text>
</g>

<!-- text & table 2 -->
<text x="167" y="2819" font-family="Liberation Sans,Noto Sans CJK SC,sans-serif" font-size="32" fill="#333" textLength="626" lengthAdjust="spacingAndGlyphs">适配电机输入接口尺寸(左端为输入尺寸)</text>
<text x="167" y="2867" font-family="Liberation Sans,sans-serif" font-size="36" fill="#333" textLength="1012" lengthAdjust="spacingAndGlyphs">Adapter motor input interface size (The left end is the input size)</text>

<g transform="translate(0,1400)">
<rect x="171" y="1494" width="2032" height="57" fill="#3d8474"/>
<rect x="471" y="1600" width="1732" height="50" fill="#dff1ee"/>
<rect x="471" y="1700" width="1732" height="50" fill="#dff1ee"/>
<rect x="471" y="1799" width="1732" height="51" fill="#dff1ee"/>
<g stroke="#356f62" stroke-width="1.5"><line x1="471" y1="1494" x2="471" y2="1551"/><line x1="689" y1="1494" x2="689" y2="1551"/><line x1="906" y1="1494" x2="906" y2="1551"/><line x1="1123" y1="1494" x2="1123" y2="1551"/><line x1="1340" y1="1494" x2="1340" y2="1551"/><line x1="1557" y1="1494" x2="1557" y2="1551"/><line x1="1774" y1="1494" x2="1774" y2="1551"/><line x1="1991" y1="1494" x2="1991" y2="1551"/></g>
<g stroke="#9a9a9a" stroke-width="1.5"><line x1="471" y1="1551" x2="471" y2="1850"/><line x1="689" y1="1551" x2="689" y2="1850"/><line x1="906" y1="1551" x2="906" y2="1850"/><line x1="1123" y1="1551" x2="1123" y2="1850"/><line x1="1340" y1="1551" x2="1340" y2="1850"/><line x1="1557" y1="1551" x2="1557" y2="1850"/><line x1="1774" y1="1551" x2="1774" y2="1850"/><line x1="1991" y1="1551" x2="1991" y2="1850"/></g>
<g stroke="#a0a0a0" stroke-width="2.5"><line x1="471" y1="1600" x2="2203" y2="1600"/><line x1="471" y1="1650" x2="2203" y2="1650"/><line x1="471" y1="1700" x2="2203" y2="1700"/><line x1="471" y1="1750" x2="2203" y2="1750"/><line x1="471" y1="1799" x2="2203" y2="1799"/><line x1="171" y1="1851" x2="2203" y2="1851" stroke-width="4" stroke="#b5b5b5"/></g>
<text class="th" x="321" y="1532">尺寸 Size</text><text class="th" x="580" y="1532">C1</text><text class="th" x="797" y="1532">C2</text><text class="th" x="1014" y="1532">C3</text><text class="th" x="1231" y="1532">C4</text><text class="th" x="1448" y="1532">C5</text><text class="th" x="1665" y="1532">C6</text><text class="th" x="1882" y="1532">C7</text><text class="th" x="2097" y="1532">C8</text>
<text class="tb" x="321" y="1710">PLFK-160-L1</text>
<text class="tb" x="580" y="1585">Φ130</text><text class="tb" x="797" y="1585">4-M8</text><text class="tb" x="1014" y="1585">Φ22</text><text class="tb" x="1231" y="1585">62</text><text class="tb" x="1448" y="1585">Φ95</text><text class="tb" x="1665" y="1585">7</text><text class="tb" x="1882" y="1585">142</text><text class="tb" x="2097" y="1585">198</text>
<text class="tb" x="580" y="1635">Φ145</text><text class="tb" x="797" y="1635">4-M8</text><text class="tb" x="1014" y="1635">Φ22/Φ24</text><text class="tb" x="1231" y="1635">62</text><text class="tb" x="1448" y="1635">Φ110</text><text class="tb" x="1665" y="1635">7</text><text class="tb" x="1882" y="1635">142</text><text class="tb" x="2097" y="1635">198</text>
<text class="tb" x="580" y="1685">Φ165</text><text class="tb" x="797" y="1685">4-M10</text><text class="tb" x="1014" y="1685">Φ32</text><text class="tb" x="1231" y="1685">62</text><text class="tb" x="1448" y="1685">Φ130</text><text class="tb" x="1665" y="1685">7</text><text class="tb" x="1882" y="1685">142</text><text class="tb" x="2097" y="1685">198</text>
<text class="tb" x="580" y="1735">Φ200</text><text class="tb" x="797" y="1735">4-M12</text><text class="tb" x="1014" y="1735">Φ35</text><text class="tb" x="1231" y="1735">86</text><text class="tb" x="1448" y="1735">Φ114.3</text><text class="tb" x="1665" y="1735">7</text><text class="tb" x="1882" y="1735">175</text><text class="tb" x="2097" y="1735">222</text>
<text class="tb" x="580" y="1784">Φ200</text><text class="tb" x="797" y="1784">4-M12</text><text class="tb" x="1014" y="1784">Φ35</text><text class="tb" x="1231" y="1784">117</text><text class="tb" x="1448" y="1784">Φ114.3</text><text class="tb" x="1665" y="1784">7</text><text class="tb" x="1882" y="1784">175</text><text class="tb" x="2097" y="1784">253</text>
<text class="tb" x="580" y="1834">Φ215</text><text class="tb" x="797" y="1834">4-M12</text><text class="tb" x="1014" y="1834">Φ38/Φ42</text><text class="tb" x="1231" y="1834">86</text><text class="tb" x="1448" y="1834">Φ180</text><text class="tb" x="1665" y="1834">7</text><text class="tb" x="1882" y="1834">190</text><text class="tb" x="2097" y="1834">222</text>
</g>
</svg>
</body></html>
